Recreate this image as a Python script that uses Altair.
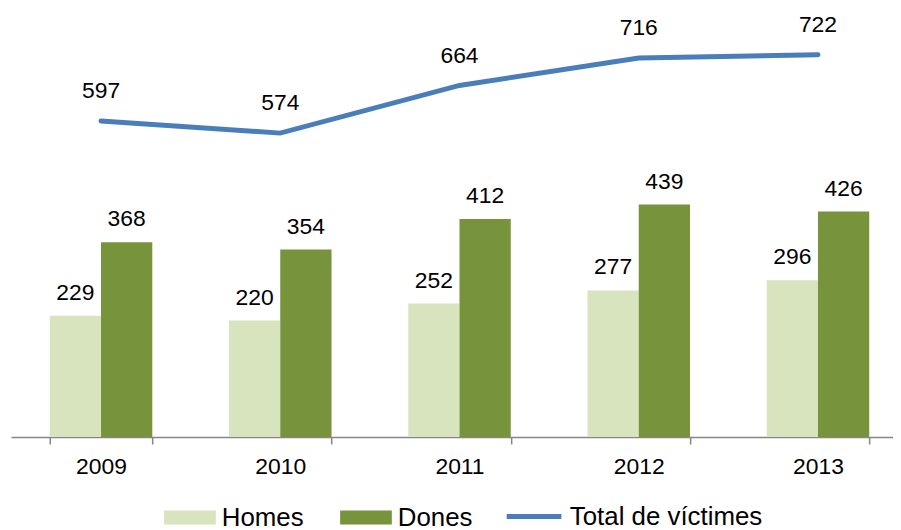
import altair as alt
import pandas as pd

years = ["2009", "2010", "2011", "2012", "2013"]
homes = [229, 220, 252, 277, 296]
dones = [368, 354, 412, 439, 426]
total = [597, 574, 664, 716, 722]
series = ["Homes", "Dones"]
bar_colors = ["#D7E4BD", "#77933C"]
line_label = "Total de víctimes"
line_color = "#4A7EBB"

FONT = "Liberation Sans"

bars_df = pd.DataFrame({
    "any": years * 2,
    "serie": [series[0]] * len(years) + [series[1]] * len(years),
    "valor": homes + dones,
})
line_df = pd.DataFrame({"any": years, "serie": [line_label] * len(years), "valor": total})

x = alt.X(
    "any:N", sort=years,
    scale=alt.Scale(paddingInner=0.428, paddingOuter=0.1745, align=0.62),
    axis=alt.Axis(title=None, labelAngle=0, labelFontSize=23, labelColor="black",
                  labelFont=FONT, labelPadding=12, tickBand="extent", tickSize=7,
                  tickColor="#868686", tickWidth=1.5, domainColor="#868686",
                  domainWidth=1.5, grid=False),
)
y = alt.Y("valor:Q", scale=alt.Scale(domain=[0, 800]), axis=None)
xo = alt.XOffset("serie:N", sort=series, scale=alt.Scale(paddingInner=0, paddingOuter=0))

bars = alt.Chart(bars_df).mark_bar().encode(
    x=x, xOffset=xo, y=y,
    color=alt.Color("serie:N", sort=series,
                    scale=alt.Scale(domain=series, range=bar_colors),
                    legend=alt.Legend(title=None, orient="none", legendX=154, legendY=481,
                                      direction="horizontal",
                                      symbolType="M-1,-0.27H1V0.27H-1Z", symbolSize=2704,
                                      symbolStrokeWidth=0, symbolOpacity=1,
                                      labelFontSize=26, labelFont=FONT, labelColor="black",
                                      labelOffset=6, columnPadding=36, labelLimit=0)),
)
bar_text = alt.Chart(bars_df).mark_text(
    dy=-16, baseline="alphabetic", fontSize=23, font=FONT, color="black"
).encode(x=x, xOffset=xo, y=y, text="valor:Q")

line = alt.Chart(line_df).mark_line(strokeWidth=5, strokeCap="round").encode(
    x=x, y=y,
    stroke=alt.Stroke("serie:N", scale=alt.Scale(domain=[line_label], range=[line_color]),
                      legend=alt.Legend(title=None, orient="none", legendX=496, legendY=476,
                                        symbolType="stroke", symbolSize=3025,
                                        symbolStrokeWidth=5, labelFontSize=26,
                                        labelFont=FONT, labelColor="black", labelOffset=6,
                                        labelLimit=0)),
)
line_text = alt.Chart(line_df).mark_text(
    dy=-23, baseline="alphabetic", fontSize=23, font=FONT, color="black"
).encode(x=x, y=y, text="valor:Q")

chart = alt.layer(bars, bar_text, line, line_text).properties(
    width=887, height=426,
    autosize=alt.AutoSizeParams(type="none"),
    padding={"left": 3, "top": 4, "right": 0, "bottom": 92},
).configure_view(stroke=None)

chart.save("out.html", embed_options={"renderer": "svg", "actions": False})
